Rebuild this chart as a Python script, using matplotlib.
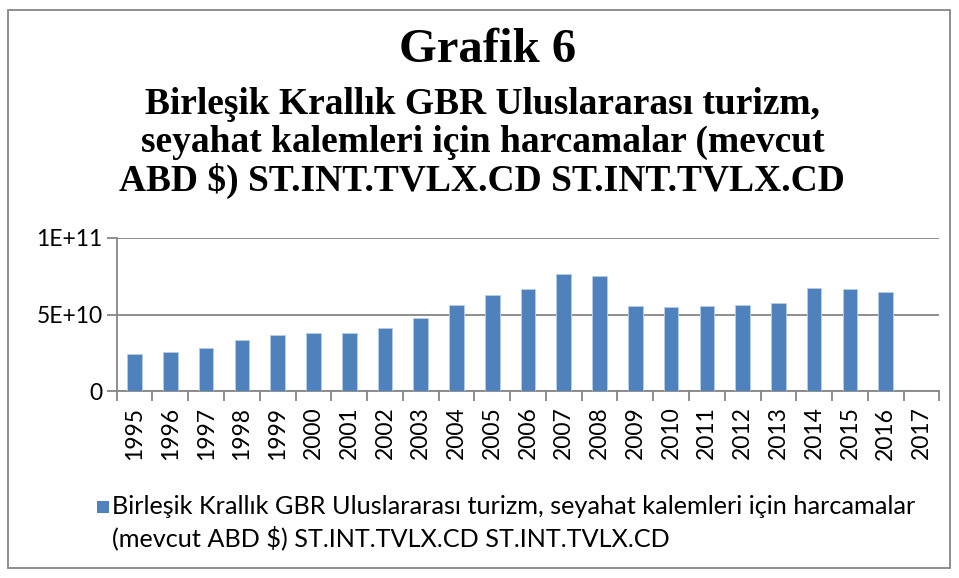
import matplotlib

matplotlib.use("Agg")
import matplotlib.pyplot as plt
from matplotlib.patches import Rectangle

years = [str(y) for y in range(1995, 2018)]
# spending, current US$ (2017 has no value)
spending = [2.45e10, 2.56e10, 2.84e10, 3.32e10, 3.67e10, 3.80e10, 3.78e10, 4.15e10,
            4.75e10, 5.62e10, 6.25e10, 6.66e10, 7.64e10, 7.53e10, 5.57e10, 5.51e10,
            5.57e10, 5.62e10, 5.77e10, 6.75e10, 6.66e10, 6.46e10, 0.0]
yticks = [0, 5e10, 1e11]
ytick_labels = ["0", "5E+10", "1E+11"]

title = "Grafik 6"
subtitle = ("Birleşik Krallık GBR Uluslararası turizm,\n"
            "seyahat kalemleri için harcamalar (mevcut\n"
            "ABD $) ST.INT.TVLX.CD ST.INT.TVLX.CD")
legend_text = ("Birleşik Krallık GBR Uluslararası turizm, seyahat kalemleri için harcamalar\n"
               "(mevcut ABD $) ST.INT.TVLX.CD ST.INT.TVLX.CD")

bar_color = "#4F81BD"
grid_color = "#868686"
sans = ["Lato", "DejaVu Sans"]
serif = ["Liberation Serif", "DejaVu Serif"]

fig = plt.figure(figsize=(9.59, 5.78), dpi=100)
fig.patches.append(Rectangle((8 / 959, 10 / 578), 942 / 959, 558 / 578, transform=fig.transFigure,
                             fill=False, edgecolor=grid_color, linewidth=1.3))

fig.text(0.508, 1 - 50 / 578, title, ha="center", va="center", fontsize=35, fontweight="bold", family=serif)
fig.text(0.503, 1 - 143 / 578, subtitle, ha="center", va="center", fontsize=27, fontweight="bold",
         family=serif, linespacing=1.1)

ax = fig.add_axes([0.1217, 0.323, 0.8578, 0.2657])
x = list(range(len(years)))
ax.bar(x, spending, width=0.41, color=bar_color, edgecolor="#B9CDE5", linewidth=0.6, zorder=3)

ax.set_xlim(-0.5, len(years) - 0.5)
ax.set_ylim(0, 1e11)
ax.set_yticks(yticks)
ax.set_yticklabels(ytick_labels, family=sans, fontsize=16.5)
ax.yaxis.grid(True, color=grid_color, linewidth=1.3, zorder=0)

ax.set_xticks([i - 0.5 for i in range(len(years) + 1)])
ax.set_xticklabels([])
ax.set_xticks(x, minor=True)
ax.set_xticklabels(years, minor=True, rotation=90, family=sans, fontsize=16.5)
ax.tick_params(axis="x", which="minor", length=0, pad=11)
ax.tick_params(axis="x", which="major", length=7, color=grid_color, width=1.3)
ax.tick_params(axis="y", length=7, color=grid_color, width=1.3, pad=3)

for side in ["top", "right"]:
    ax.spines[side].set_visible(False)
for side in ["left", "bottom"]:
    ax.spines[side].set_color(grid_color)
    ax.spines[side].set_linewidth(1.3)

fig.patches.append(Rectangle((97 / 959, 1 - 513 / 578), 12 / 959, 12 / 578, transform=fig.transFigure,
                             facecolor=bar_color, edgecolor="none"))
fig.text(112 / 959, 1 - 523 / 578, legend_text, ha="left", va="center", fontsize=18.2,
         family=sans, linespacing=1.38)

fig.savefig("out.png", dpi=100)
